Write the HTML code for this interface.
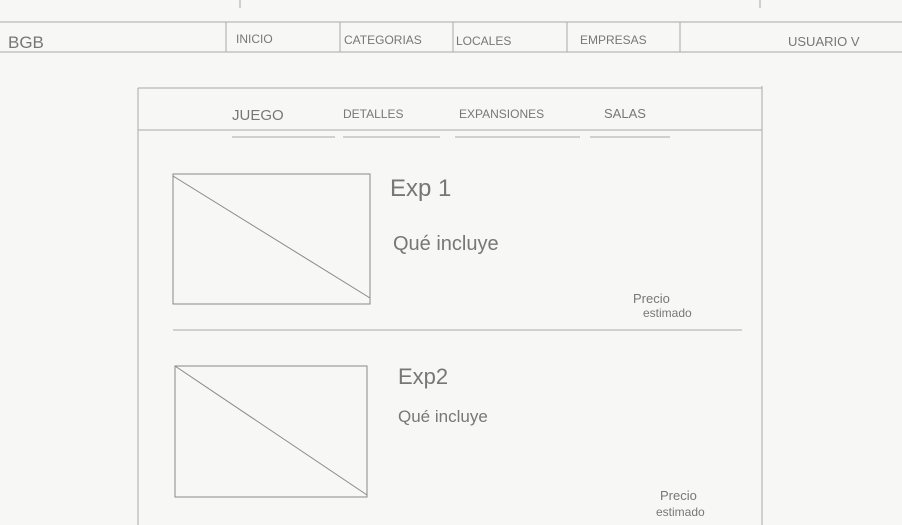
<!DOCTYPE html>
<html><head><meta charset="utf-8"><style>
html,body{margin:0;padding:0;background:#f7f7f6;}
svg{display:block}
text{font-family:"Liberation Sans",sans-serif;fill:#777;}
</style></head><body>
<svg width="902" height="525" viewBox="0 0 902 525">
<rect width="902" height="525" fill="#f7f7f6"/>
<g stroke="#aaa" stroke-width="1" fill="none">
<line x1="0" y1="22" x2="902" y2="22"/>
<line x1="0" y1="52" x2="902" y2="52"/>
<line x1="226" y1="22" x2="226" y2="52"/>
<line x1="340" y1="22" x2="340" y2="52"/>
<line x1="453" y1="22" x2="453" y2="52"/>
<line x1="567" y1="22" x2="567" y2="52"/>
<line x1="680" y1="22" x2="680" y2="52"/>
<line x1="240" y1="0" x2="240" y2="8"/>
<line x1="760" y1="0" x2="760" y2="8"/>
<line x1="138" y1="88" x2="762" y2="88"/>
<line x1="138" y1="88" x2="138" y2="525"/>
<line x1="762" y1="86" x2="762" y2="525"/>
<line x1="138" y1="130" x2="762" y2="130"/>
<line x1="232" y1="137" x2="335" y2="137"/>
<line x1="343" y1="137" x2="440" y2="137"/>
<line x1="455" y1="137" x2="580" y2="137"/>
<line x1="590" y1="137" x2="670" y2="137"/>
<line x1="173" y1="330" x2="742" y2="330"/>
</g>
<g stroke="#888" stroke-width="1" fill="none">
<rect x="173" y="174" width="197" height="130"/>
<line x1="173" y1="176" x2="370" y2="298"/>
<rect x="175" y="366" width="192" height="131"/>
<line x1="175" y1="366" x2="367" y2="495"/>
</g>
<text x="8" y="48" font-size="17">BGB</text>
<text x="236" y="43" font-size="12">INICIO</text>
<text x="344" y="44" font-size="12">CATEGORIAS</text>
<text x="456" y="45" font-size="12">LOCALES</text>
<text x="580" y="44" font-size="12">EMPRESAS</text>
<text x="788" y="46" font-size="13">USUARIO V</text>
<text x="232" y="120" font-size="15">JUEGO</text>
<text x="343" y="118" font-size="12">DETALLES</text>
<text x="459" y="118" font-size="12">EXPANSIONES</text>
<text x="604" y="118" font-size="13">SALAS</text>
<text x="390" y="196" font-size="24" fill="#666">Exp 1</text>
<text x="393" y="250" font-size="20">Qué incluye</text>
<text x="633" y="303" font-size="13">Precio</text>
<text x="643" y="317" font-size="12">estimado</text>
<text x="398" y="384" font-size="22" fill="#666">Exp2</text>
<text x="398" y="422" font-size="17">Qué incluye</text>
<text x="660" y="500" font-size="13">Precio</text>
<text x="656" y="516" font-size="12">estimado</text>
</svg>
</body></html>
